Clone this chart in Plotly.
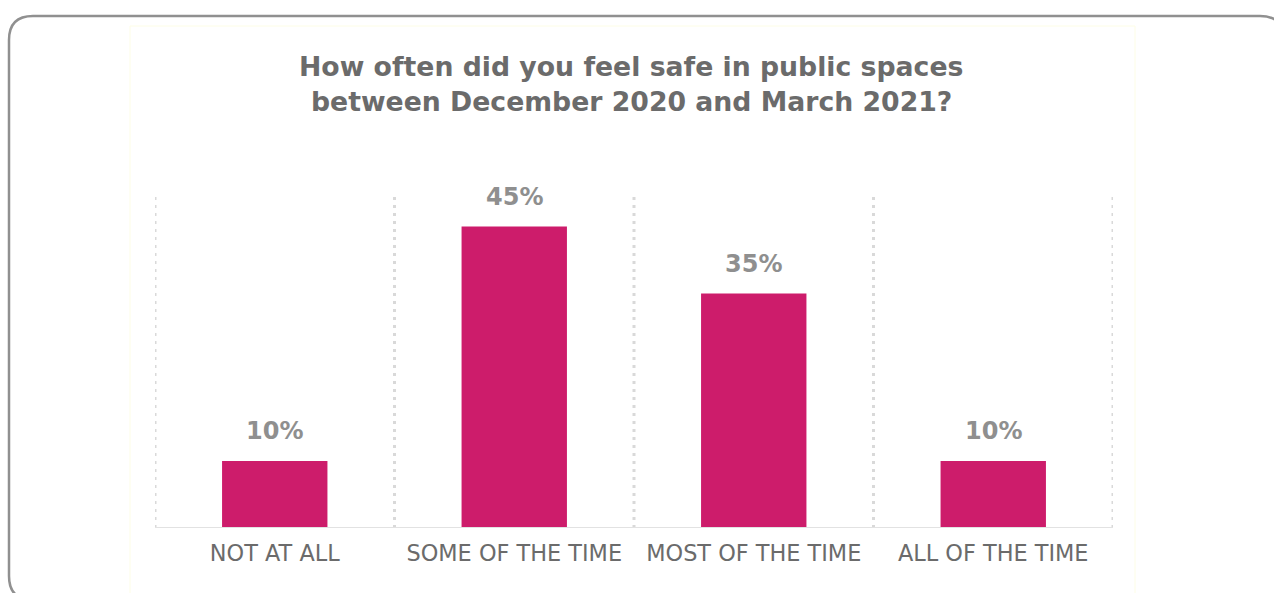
import plotly.graph_objects as go

# Survey responses
categories = ["NOT AT ALL", "SOME OF THE TIME", "MOST OF THE TIME", "ALL OF THE TIME"]
shares = [10, 45, 35, 10]
value_labels = ["10%", "45%", "35%", "10%"]

title_lines = [
    "How often did you feel safe in public spaces",
    "between December 2020 and March 2021?",
]

BAR_COLOR = "#CD1C6B"
GRID_COLOR = "#D9D9D9"
TEXT_GREY = "#6B6B6B"
VALUE_GREY = "#8F8F8F"

W, H = 1274, 593
PL, PR, PT, PB = 155, 1113, 193, 528   # plot area in pixels
x_pos = list(range(len(categories)))


def px(xp):
    return (xp - PL) / (PR - PL)


def py(yp):
    return (PB - yp) / (PB - PT)


fig = go.Figure()
fig.add_trace(go.Bar(
    x=x_pos,
    y=shares,
    width=0.44,
    marker=dict(color=BAR_COLOR, line=dict(width=0)),
    hoverinfo="skip",
))

# value labels above each bar
for xi, v, lab in zip(x_pos, shares, value_labels):
    fig.add_annotation(
        x=xi, y=v, xref="x", yref="y",
        text=lab, showarrow=False,
        yanchor="middle", yshift=30,
        font=dict(family="DejaVu Sans", size=24, color=VALUE_GREY, weight="bold"),
    )

shapes = []
# dotted separators between categories
for b in [-0.5, 0.5, 1.5, 2.5, 3.5]:
    shapes.append(dict(
        type="line", xref="x", yref="y",
        x0=b, x1=b, y0=0, y1=50,
        line=dict(color=GRID_COLOR, width=3, dash="3px,5px"),
        layer="below",
    ))
# baseline
shapes.append(dict(
    type="line", xref="x", yref="y",
    x0=-0.5, x1=3.5, y0=0, y1=0,
    line=dict(color="#E2E2E2", width=2),
    layer="above",
))
# faint inner panel
shapes.append(dict(
    type="rect", xref="paper", yref="paper",
    x0=px(130), x1=px(1135), y0=py(640), y1=py(26),
    line=dict(color="#FDFDE6", width=1),
    fillcolor="rgba(0,0,0,0)",
    layer="below",
))
# rounded card outline
L, T, R, B, r = 9, 16, 1284, 600, 24
path = (
    f"M {px(L)},{py(T + r)} "
    f"Q {px(L)},{py(T)} {px(L + r)},{py(T)} "
    f"L {px(R - r)},{py(T)} "
    f"Q {px(R)},{py(T)} {px(R)},{py(T + r)} "
    f"L {px(R)},{py(B - r)} "
    f"Q {px(R)},{py(B)} {px(R - r)},{py(B)} "
    f"L {px(L + r)},{py(B)} "
    f"Q {px(L)},{py(B)} {px(L)},{py(B - r)} Z"
)
shapes.append(dict(
    type="path", xref="paper", yref="paper", path=path,
    line=dict(color="#909090", width=2.5),
    layer="above",
))

# two-line title
for line, yc in zip(title_lines, [67, 101]):
    fig.add_annotation(
        x=px(631), xref="paper", y=py(yc), yref="paper",
        xanchor="center", yanchor="middle",
        text=line, showarrow=False,
        font=dict(family="DejaVu Sans", size=26.7, color=TEXT_GREY, weight="bold"),
    )

fig.update_layout(
    width=W, height=H,
    margin=dict(l=PL, r=W - PR, t=PT, b=H - PB, pad=0),
    paper_bgcolor="white",
    plot_bgcolor="white",
    showlegend=False,
    shapes=shapes,
    xaxis=dict(
        range=[-0.5, 3.5],
        tickmode="array", tickvals=x_pos, ticktext=categories,
        showgrid=False, zeroline=False, showline=False,
        ticks="", ticklen=0, ticklabelstandoff=10,
        tickfont=dict(family="DejaVu Sans", size=22.4, color=TEXT_GREY),
        fixedrange=True,
    ),
    yaxis=dict(
        range=[0, 50], visible=False, fixedrange=True,
    ),
)

fig.write_html("out.html")
